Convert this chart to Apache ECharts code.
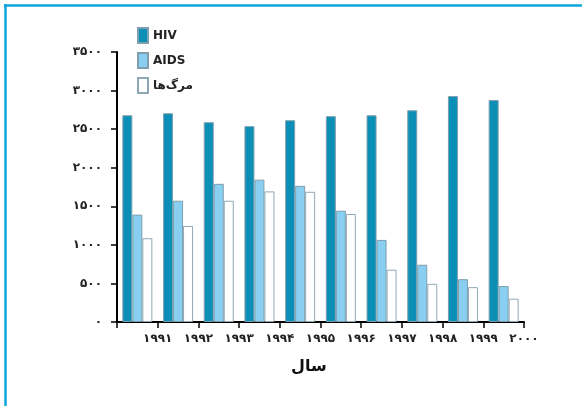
<!DOCTYPE html>
<html><head><meta charset="utf-8">
<script src="https://cdn.jsdelivr.net/npm/echarts@6/dist/echarts.min.js"></script>
<style>html,body{margin:0;padding:0;background:#fff}#c{width:582px;height:406px}</style>
</head><body><div id="c"></div>
<script>
var categories = ['1991','1992','1993','1994','1995','1996','1997','1998','1999','2000'];
var yearLabels = ['۱۹۹۱','۱۹۹۲','۱۹۹۳','۱۹۹۴','۱۹۹۵','۱۹۹۶','۱۹۹۷','۱۹۹۸','۱۹۹۹','۲۰۰۰'];
var yTickLabels = ['۰','۵۰۰','۱۰۰۰','۱۵۰۰','۲۰۰۰','۲۵۰۰','۳۰۰۰','۳۵۰۰'];
var hiv    = [2680, 2706, 2590, 2539, 2616, 2668, 2680, 2745, 2929, 2878];
var aids   = [1392, 1572, 1791, 1845, 1765, 1443, 1064, 742, 555, 466];
var deaths = [1086, 1245, 1572, 1693, 1688, 1400, 678, 495, 452, 302];
var seriesNames = ['HIV', 'AIDS', 'مرگ‌ها'];
var xTitle = 'سال';

var chart = echarts.init(document.getElementById('c'), null, {renderer:'canvas'});
var font = 'DejaVu Sans';
var grid = {left:117, right:58, top:52, bottom:84};
chart.setOption({
  animation:false,
  backgroundColor:'#fff',
  grid: grid,
  legend: {
    orient:'vertical', left:132, top:22, itemWidth:10, itemHeight:15, itemGap:8,
    icon:'rect',
    data: seriesNames,
    textStyle:{fontFamily:font, fontSize:12, fontWeight:'bold', color:'#222'}
  },
  xAxis: [
    {type:'category', data:categories, show:false, boundaryGap:true},
    {type:'value', min:0, max:10, interval:1, position:'bottom',
     axisLine:{show:true, lineStyle:{color:'#000', width:2}},
     axisTick:{show:true, length:6, lineStyle:{color:'#000', width:1.5}},
     splitLine:{show:false},
     axisLabel:{margin:11, fontFamily:font, fontSize:12, fontWeight:'bold', color:'#222',
       formatter:function(v){return v===0?'':yearLabels[v-1];}}
    }
  ],
  yAxis: {type:'value', min:0, max:3500, interval:500,
    axisLine:{show:true, lineStyle:{color:'#000', width:2}},
    axisTick:{show:true, length:6, lineStyle:{color:'#000', width:1.5}},
    splitLine:{show:false},
    axisLabel:{margin:15, fontFamily:font, fontSize:12, fontWeight:'bold', color:'#222',
      formatter:function(v){return yTickLabels[Math.round(v/500)];}}
  },
  series: [
    {name:seriesNames[0], type:'bar', xAxisIndex:0, data:hiv, barWidth:10, barGap:'0%',
     itemStyle:{color:'#0b8fb7', borderColor:'#7f9fae', borderWidth:1}},
    {name:seriesNames[1], type:'bar', xAxisIndex:0, data:aids, barWidth:10, barGap:'0%',
     itemStyle:{color:'#88cff2', borderColor:'#7f9fae', borderWidth:1}},
    {name:seriesNames[2], type:'bar', xAxisIndex:0, data:deaths, barWidth:10, barGap:'0%',
     itemStyle:{color:'#ffffff', borderColor:'#8fa8b6', borderWidth:1}}
  ],
  graphic: [
    {type:'line', shape:{x1:4, y1:5.5, x2:582, y2:5.5}, style:{stroke:'#0ea5de', lineWidth:2.5}},
    {type:'line', shape:{x1:5.5, y1:4, x2:5.5, y2:406}, style:{stroke:'#0ea5de', lineWidth:2.5}},
    {type:'text', left:291, top:359, style:{text:xTitle, fontFamily:font, fontSize:16, fontWeight:'bold', fill:'#111'}}
  ]
});
</script></body></html>
